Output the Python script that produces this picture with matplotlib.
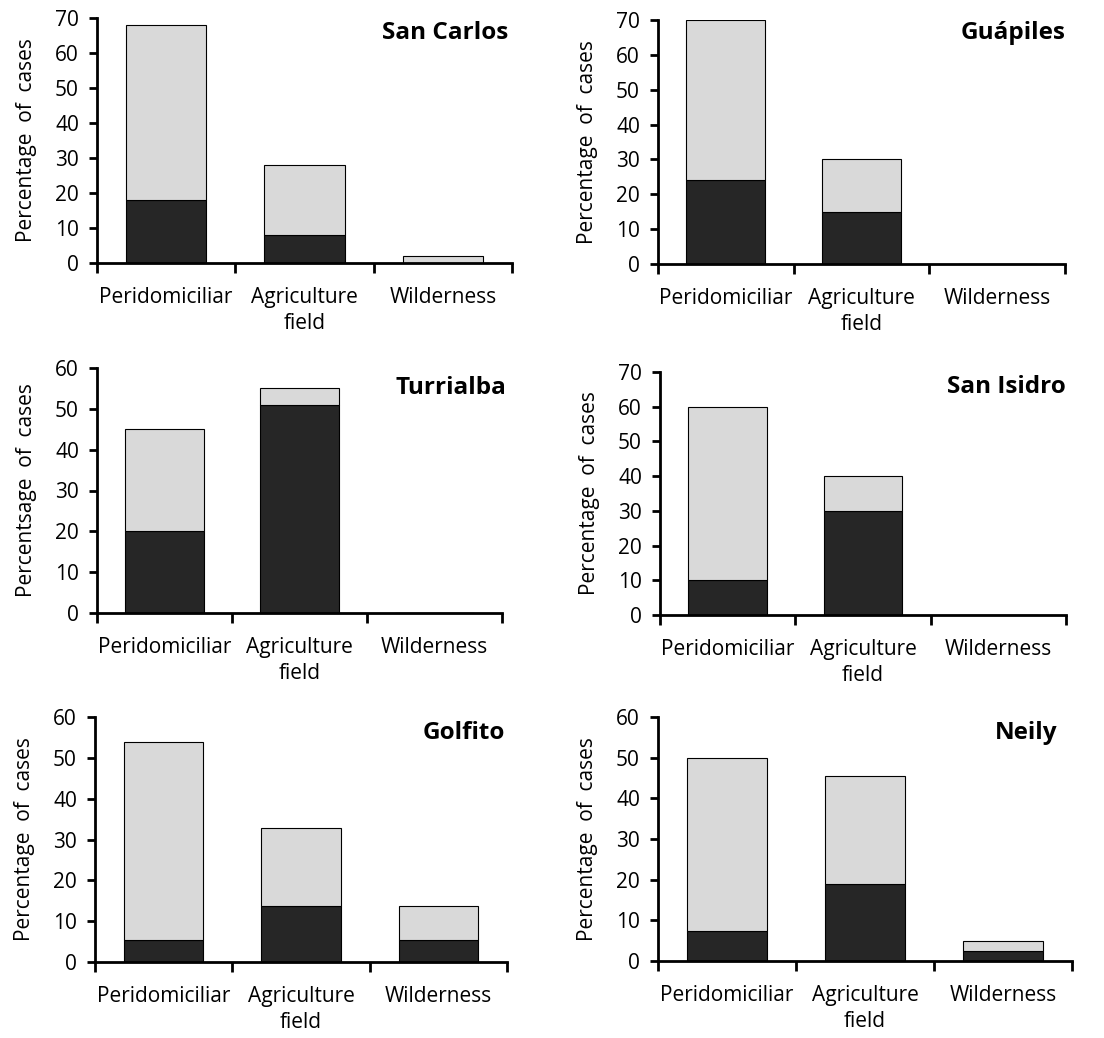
import matplotlib
matplotlib.use("Agg")
import matplotlib.pyplot as plt
import numpy as np

plt.rcParams["font.family"] = ["Open Sans", "DejaVu Sans"]

# Data
categories = ["Peridomiciliar", "Agriculture\nfield", "Wilderness"]
sites = ["San Carlos", "Guápiles", "Turrialba", "San Isidro", "Golfito", "Neily"]

# dark (lower) segment and total bar height per site
dark_vals = [
    [18, 8, 0],
    [24, 15, 0],
    [20, 51, 0],
    [10, 30, 0],
    [5.5, 13.7, 5.5],
    [7.3, 19, 2.4],
]
total_vals = [
    [68, 28, 2],
    [70, 30, 0],
    [45, 55, 0],
    [60, 40, 0],
    [54, 32.7, 13.7],
    [50, 45.4, 4.9],
]
y_max = [70, 70, 60, 70, 60, 60]
y_labels = ["Percentage  of  cases", "Percentage  of  cases", "Percentsage  of  cases",
            "Percentage  of  cases", "Percentage  of  cases", "Percentage  of  cases"]

# Layout (pixels: left, top, right, zero-line)
W, H = 1104, 1038
boxes = [
    (97, 18, 512, 263),
    (658, 20, 1065, 264),
    (97, 368, 502, 613),
    (660, 372, 1066, 615),
    (95, 717, 507, 962),
    (658, 717, 1072, 961),
]
title_pos = [(0.99, 0.94), (1.0, 0.945), (1.01, 0.92), (1.0, 0.94), (0.995, 0.935), (0.965, 0.935)]

dark_c = "#262626"
light_c = "#d9d9d9"
fs = 15

fig = plt.figure(figsize=(W / 100, H / 100), dpi=100)

x = np.arange(len(categories)) + 0.5
for i, site in enumerate(sites):
    l, t, r, b = boxes[i]
    ax = fig.add_axes([l / W, (H - b) / H, (r - l) / W, (b - t) / H])
    dark = np.array(dark_vals[i])
    light = np.array(total_vals[i]) - dark
    ax.bar(x, dark, width=0.58, color=dark_c, edgecolor="black", linewidth=0.8, zorder=2)
    ax.bar(x, light, bottom=dark, width=0.58, color=light_c, edgecolor="black", linewidth=0.8, zorder=2)

    ax.set_xlim(0, 3)
    ax.set_ylim(0, y_max[i])
    ax.set_yticks(np.arange(0, y_max[i] + 1, 10))
    ax.set_xticks([0, 1, 2, 3])
    ax.set_xticklabels([])
    ax.set_xticks(x, minor=True)
    ax.set_xticklabels(categories, minor=True, fontsize=fs, linespacing=1.35)
    ax.tick_params(axis="x", which="major", direction="out", length=7, width=2)
    ax.tick_params(axis="x", which="minor", length=0, pad=17)
    ax.tick_params(axis="y", direction="out", length=6, width=2, labelsize=fs, pad=7)

    for s in ["top", "right"]:
        ax.spines[s].set_visible(False)
    for s in ["left", "bottom"]:
        ax.spines[s].set_linewidth(2)
    ax.spines["bottom"].set_zorder(3)

    ax.set_ylabel(y_labels[i], fontsize=fs, labelpad=13)
    ax.text(title_pos[i][0], title_pos[i][1], site, transform=ax.transAxes,
            ha="right", va="center", fontsize=17.5, fontweight="bold")

fig.savefig("out.png", dpi=100)
